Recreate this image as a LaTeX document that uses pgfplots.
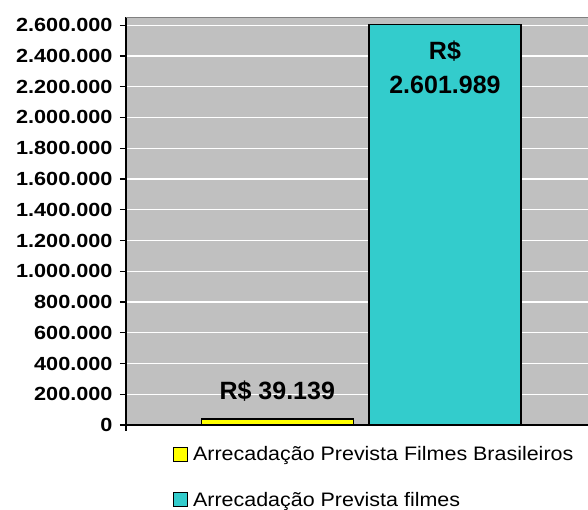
\documentclass[border=0pt]{standalone}
\usepackage{fontspec}
\setmainfont{Liberation Sans}
\newfontfamily\tickfont[FakeStretch=1.14]{Liberation Sans}
\newfontfamily\legfont[FakeStretch=1.1]{Liberation Sans}
\usepackage{pgfplots}
\pgfplotsset{compat=1.18}
\definecolor{barY}{HTML}{FFFF00}
\definecolor{barC}{HTML}{33CCCC}
\definecolor{plotBg}{HTML}{C0C0C0}
\begin{document}
\begin{tikzpicture}[x=1pt,y=1pt]
\useasboundingbox (-126,-85) rectangle (462,425);
\begin{axis}[at={(0,0)}, anchor=south west, scale only axis,
  width=462pt, height=407.5pt,
  xmin=-0.902, xmax=1.853, ymin=0, ymax=2650000,
  ybar, bar width=0.906, bar shift=0pt,
  axis x line*=bottom, axis y line*=left,
  axis line style={black, line width=1.2pt},
  axis background/.style={fill=plotBg},
  ymajorgrids, grid style={white, line width=1.2pt},
  ytick={0,200000,...,2600000},
  xtick={-0.902}, xticklabels={},
  tick align=outside, major tick length=6pt,
  tick style={black, line width=1.2pt},
  scaled y ticks=false,
  /pgf/number format/.cd, fixed, 1000 sep={.}, assume math mode=true, /pgfplots/.cd,
  yticklabel style={font=\tickfont\bfseries\fontsize{19}{19}\selectfont, xshift=-4pt},
  legend image code/.code={\draw[#1, draw=black, line width=1pt] (0pt,-7pt) rectangle (14pt,7pt);},
  legend style={at={(0.095,-0.042)}, anchor=north west, draw=none, fill=none,
    font=\legfont\fontsize{19.5}{20}\selectfont, row sep=26pt,
    nodes={inner xsep=5pt}},
  legend cell align=left,
]
\addplot[fill=barY, draw=black, line width=1.2pt,
  nodes near coords={R\$ 39.139},
  nodes near coords style={font=\bfseries\fontsize{25}{25}\selectfont, anchor=base, yshift=19pt}]
  coordinates {(0,39139)};
\addlegendentry{Arrecadação Prevista Filmes Brasileiros}
\addplot[fill=barC, draw=black, line width=1.2pt,
  nodes near coords={R\$\\2.601.989},
  nodes near coords style={font=\bfseries\fontsize{25}{34}\selectfont, align=center, anchor=north, inner sep=0pt, yshift=-15pt}]
  coordinates {(1,2601989)};
\addlegendentry{Arrecadação Prevista filmes}
\draw[color=gray, line width=1.5pt] (rel axis cs:0,1) -- (rel axis cs:1,1);
\end{axis}
\end{tikzpicture}
\end{document}
